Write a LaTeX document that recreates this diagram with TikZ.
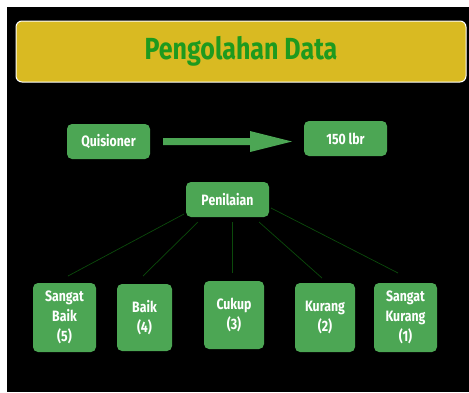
\documentclass[tikz,border=0pt]{standalone}
\usepackage{fontspec}
\setmainfont{Fira Sans}[FakeStretch=0.82]
\usetikzlibrary{arrows.meta}
\definecolor{titlefill}{HTML}{D9BA22}
\definecolor{titletext}{HTML}{1E9A1E}
\definecolor{boxfill}{HTML}{4CA654}
\definecolor{linkcol}{HTML}{0B4A0B}
\tikzset{
  gbox/.style={fill=boxfill, rounded corners=5pt, text=white, font=\bfseries\fontsize{15}{20}\selectfont, align=center, inner sep=0pt},
  link/.style={draw=linkcol, line width=0.7pt},
}
\begin{document}
\begin{tikzpicture}[x=1pt,y=-1pt]
\useasboundingbox (0,0) rectangle (469,392);
\fill[white] (0,0) rectangle (469,392);
\fill[black] (7,7) rectangle (469,392);
% title
\node[draw=white, line width=1pt, fill=titlefill, rounded corners=6pt, minimum width=450pt, minimum height=61pt, inner sep=0pt,
      text=titletext, font=\bfseries\fontsize{30.5}{32}\selectfont] (title) at (241,51.5) {\raisebox{-3.5pt}{Pengolahan Data}};
% top row
\node[gbox, minimum width=83pt, minimum height=35pt] (quis) at (108.5,141.5) {Quisioner};
\node[gbox, minimum width=83pt, minimum height=35pt] (lbr) at (345.5,138.5) {150 lbr};
\fill[boxfill] (163,138) -- (250,138) -- (250,131) -- (292,141.5) -- (250,152) -- (250,145) -- (163,145) -- cycle;
\coordinate (arrowtail) at (163,141.5);
% Penilaian
\node[gbox, minimum width=83pt, minimum height=35pt] (pen) at (227.5,199.5) {Penilaian};
% bottom row
\node[gbox, minimum width=63pt, minimum height=69pt] (sb) at (64.5,317.5) {Sangat\\Baik\\(5)};
\node[gbox, minimum width=55pt, minimum height=67pt] (b) at (144.5,317.5) {Baik\\(4)};
\node[gbox, minimum width=60pt, minimum height=68pt] (c) at (234,315) {Cukup\\(3)};
\node[gbox, minimum width=60pt, minimum height=69pt] (k) at (325,317.5) {Kurang\\(2)};
\node[gbox, minimum width=63pt, minimum height=69pt] (sk) at (405.5,317.5) {Sangat\\Kurang\\(1)};
% connector end points
\coordinate (p1) at (184,214); \coordinate (e1) at (68,276);
\coordinate (p2) at (198,222); \coordinate (e2) at (143,276);
\coordinate (p3) at (232,222); \coordinate (e3) at (232,273);
\coordinate (p4) at (259,222); \coordinate (e4) at (322,278);
\coordinate (p5) at (271,208); \coordinate (e5) at (398,273);
\draw[link] (p1) -- (e1);
\draw[link] (p2) -- (e2);
\draw[link] (p3) -- (e3);
\draw[link] (p4) -- (e4);
\draw[link] (p5) -- (e5);
\end{tikzpicture}
\end{document}
